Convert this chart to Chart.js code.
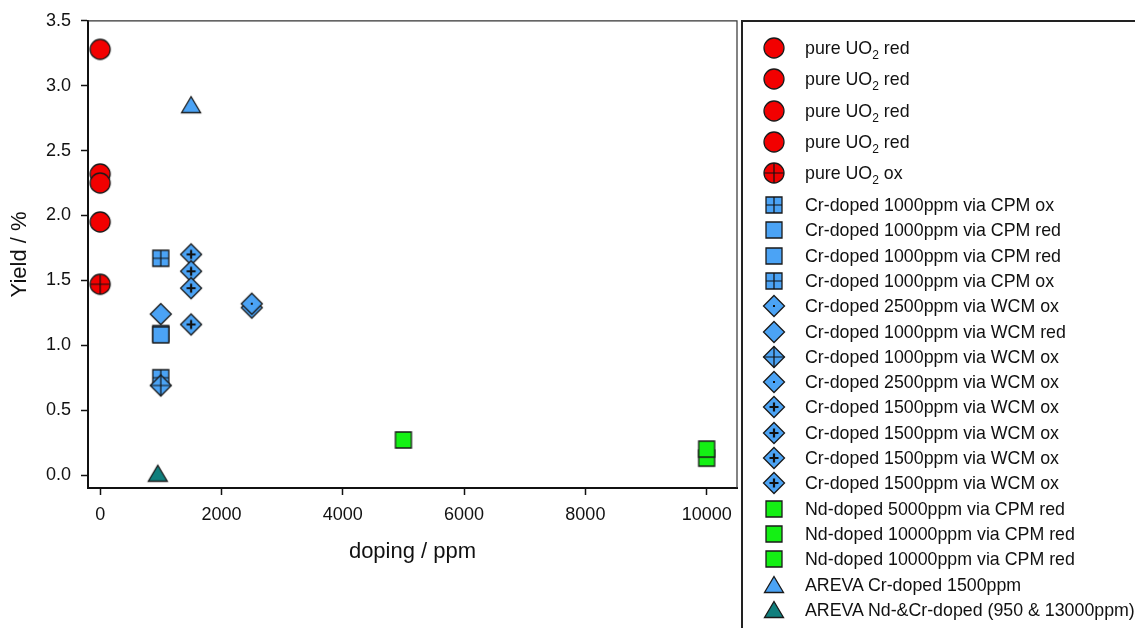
<!DOCTYPE html>
<html>
<head>
<meta charset="utf-8">
<script src="https://cdn.jsdelivr.net/npm/chart.js@4.4.1/dist/chart.umd.min.js"></script>
<style>
  body { margin: 0; background: #fff; }
  #wrap { position: relative; width: 1135px; height: 628px; overflow: hidden; font-family: "Liberation Sans", Arial, sans-serif; }
  #legend { position: absolute; left: 741px; top: 20px; width: 420px; height: 640px; border-left: 2px solid #222; border-top: 2px solid #222; }
  .row { position: absolute; left: 0; height: 28px; width: 400px; font-size: 17.8px; color: #111; white-space: nowrap; }
  .row canvas { position: absolute; left: 17px; top: 0; }
  .row span { position: absolute; left: 62px; top: 0; line-height: 28px; }
  sub { font-size: 12px; vertical-align: -5px; line-height: 0; }
</style>
</head>
<body>
<div id="wrap">
  <canvas id="c" width="1135" height="628"></canvas>
  <div id="legend"></div>
</div>
<script>
// tick labels
const X_TICKS = [0, 2000, 4000, 6000, 8000, 10000];
const Y_TICKS = [0, 0.5, 1.0, 1.5, 2.0, 2.5, 3.0, 3.5];

// series, in legend order
const SERIES_NAMES = [
    'pure UO2 red', 'pure UO2 red', 'pure UO2 red', 'pure UO2 red', 'pure UO2 ox',
    'Cr-doped 1000ppm via CPM ox', 'Cr-doped 1000ppm via CPM red', 'Cr-doped 1000ppm via CPM red', 'Cr-doped 1000ppm via CPM ox',
    'Cr-doped 2500ppm via WCM ox', 'Cr-doped 1000ppm via WCM red', 'Cr-doped 1000ppm via WCM ox', 'Cr-doped 2500ppm via WCM ox',
    'Cr-doped 1500ppm via WCM ox', 'Cr-doped 1500ppm via WCM ox', 'Cr-doped 1500ppm via WCM ox', 'Cr-doped 1500ppm via WCM ox',
    'Nd-doped 5000ppm via CPM red', 'Nd-doped 10000ppm via CPM red', 'Nd-doped 10000ppm via CPM red',
    'AREVA Cr-doped 1500ppm', 'AREVA Nd-&Cr-doped (950 & 13000ppm)'
];
const SERIES_X = [
    [0], [0], [0], [0], [0],
    [1000], [1000], [1000], [1000],
    [2500], [1000], [1000], [2500],
    [1500], [1500], [1500], [1500],
    [5000], [10000], [10000],
    [1500], [950]
];
const SERIES_Y = [
    [3.28], [2.32], [2.25], [1.95], [1.47],
    [1.67], [1.09], [1.08], [0.75],
    [1.29], [1.24], [0.69], [1.32],
    [1.70], [1.57], [1.44], [1.16],
    [0.27], [0.13], [0.20],
    [2.85], [0.01]
];

// marker styles, one per series
const RED = '#f20000', BLUE = '#4ba3f5', GREEN = '#14f014', TEAL = '#107f7d';
const MARKERS = [
    {shape: 'circle', fill: RED}, {shape: 'circle', fill: RED}, {shape: 'circle', fill: RED}, {shape: 'circle', fill: RED},
    {shape: 'circle', fill: RED, inner: 'cross'},
    {shape: 'square', fill: BLUE, inner: 'cross'}, {shape: 'square', fill: BLUE}, {shape: 'square', fill: BLUE},
    {shape: 'square', fill: BLUE, inner: 'cross'},
    {shape: 'diamond', fill: BLUE, inner: 'dot'}, {shape: 'diamond', fill: BLUE}, {shape: 'diamond', fill: BLUE, inner: 'cross'},
    {shape: 'diamond', fill: BLUE, inner: 'dot'},
    {shape: 'diamond', fill: BLUE, inner: 'plus'}, {shape: 'diamond', fill: BLUE, inner: 'plus'},
    {shape: 'diamond', fill: BLUE, inner: 'plus'}, {shape: 'diamond', fill: BLUE, inner: 'plus'},
    {shape: 'square', fill: GREEN}, {shape: 'square', fill: GREEN}, {shape: 'square', fill: GREEN},
    {shape: 'triangle', fill: BLUE}, {shape: 'triangle', fill: TEAL}
];

function makeMarker(m) {
    const c = document.createElement('canvas');
    c.width = 28; c.height = 28;
    const g = c.getContext('2d');
    const cx = 14, cy = 14;
    let h = 10; // half extent for the crosshair
    g.fillStyle = m.fill;
    g.strokeStyle = '#1a1a1a';
    g.lineWidth = 1.3;
    g.beginPath();
    if (m.shape === 'circle') {
        g.arc(cx, cy, 10, 0, Math.PI * 2);
    } else if (m.shape === 'square') {
        h = 8;
        g.rect(cx - 8, cy - 8, 16, 16);
    } else if (m.shape === 'diamond') {
        h = 10.5;
        g.moveTo(cx, cy - h); g.lineTo(cx + h, cy); g.lineTo(cx, cy + h); g.lineTo(cx - h, cy);
        g.closePath();
    } else if (m.shape === 'triangle') {
        g.moveTo(cx, cy - 8.5); g.lineTo(cx + 9.5, cy + 7.5); g.lineTo(cx - 9.5, cy + 7.5);
        g.closePath();
    }
    g.fill();
    g.stroke();

    g.fillStyle = '#111';
    g.strokeStyle = '#111';
    if (m.inner === 'cross') {
        g.lineWidth = 1.2;
        g.beginPath();
        g.moveTo(cx - h, cy); g.lineTo(cx + h, cy);
        g.moveTo(cx, cy - h); g.lineTo(cx, cy + h);
        g.stroke();
    } else if (m.inner === 'plus') {
        g.lineWidth = 2.2;
        g.beginPath();
        g.moveTo(cx - 4.5, cy); g.lineTo(cx + 4.5, cy);
        g.moveTo(cx, cy - 4.5); g.lineTo(cx, cy + 4.5);
        g.stroke();
    } else if (m.inner === 'dot') {
        g.fillRect(cx - 1, cy - 1, 2, 2);
    }
    return c;
}

const markerCanvases = MARKERS.map(makeMarker);

const datasets = SERIES_NAMES.map((name, i) => ({
    label: name,
    data: SERIES_X[i].map((x, j) => ({ x: x, y: SERIES_Y[i][j] })),
    pointStyle: markerCanvases[i],
    pointRadius: 10,
    order: SERIES_NAMES.length - i // later series drawn on top
}));

// top and right frame lines of the plot box
const framePlugin = {
    id: 'frame',
    beforeDatasetsDraw(chart) {
        const { ctx, chartArea: a } = chart;
        ctx.save();
        ctx.strokeStyle = '#333';
        ctx.lineWidth = 1.2;
        ctx.beginPath();
        ctx.moveTo(a.left, a.top);
        ctx.lineTo(a.right, a.top);
        ctx.lineTo(a.right, a.bottom);
        ctx.stroke();
        ctx.restore();
    }
};

Chart.defaults.font.family = '"Liberation Sans", Arial, sans-serif';
Chart.defaults.color = '#111';

new Chart(document.getElementById('c'), {
    type: 'scatter',
    data: { datasets },
    options: {
        responsive: false,
        animation: false,
        devicePixelRatio: 1,
        layout: { padding: { top: 20, right: 398, left: 0, bottom: 0 } },
        plugins: { legend: { display: false }, tooltip: { enabled: false } },
        scales: {
            x: {
                type: 'linear',
                min: -200,
                max: 10500,
                afterBuildTicks: a => { a.ticks = X_TICKS.map(v => ({ value: v })); },
                afterFit: a => { a.height = 140; },
                ticks: { callback: v => String(v), font: { size: 18 }, color: '#111', padding: 9 },
                grid: { drawOnChartArea: false, drawTicks: true, tickLength: 7, tickColor: '#111', tickWidth: 1.5 },
                border: { color: '#111', width: 2 },
                title: { display: true, text: 'doping / ppm', font: { size: 22 }, color: '#111', padding: { top: 0, bottom: 63 } }
            },
            y: {
                type: 'linear',
                min: -0.1,
                max: 3.5,
                afterBuildTicks: a => { a.ticks = Y_TICKS.map(v => ({ value: v })); },
                afterFit: a => { a.width = 88; },
                ticks: { callback: v => v.toFixed(1), font: { size: 18 }, color: '#111', padding: 10 },
                grid: { drawOnChartArea: false, drawTicks: true, tickLength: 7, tickColor: '#111', tickWidth: 1.5 },
                border: { color: '#111', width: 2 },
                title: { display: true, text: 'Yield / %', font: { size: 22 }, color: '#111', padding: { top: 7, bottom: 0 } }
            }
        }
    },
    plugins: [framePlugin]
});

// legend box on the right
const legend = document.getElementById('legend');
SERIES_NAMES.forEach((name, i) => {
    const yc = i < 5 ? 48 + i * 31.3 : 205 + (i - 5) * 25.3;
    const row = document.createElement('div');
    row.className = 'row';
    row.style.top = (yc - 14 - 22) + 'px';
    row.appendChild(markerCanvases[i]);
    const span = document.createElement('span');
    const parts = name.split('UO2');
    span.appendChild(document.createTextNode(parts[0]));
    if (parts.length > 1) {
        span.appendChild(document.createTextNode('UO'));
        const sub = document.createElement('sub');
        sub.textContent = '2';
        span.appendChild(sub);
        span.appendChild(document.createTextNode(parts[1]));
    }
    row.appendChild(span);
    legend.appendChild(row);
});
</script>
</body>
</html>
